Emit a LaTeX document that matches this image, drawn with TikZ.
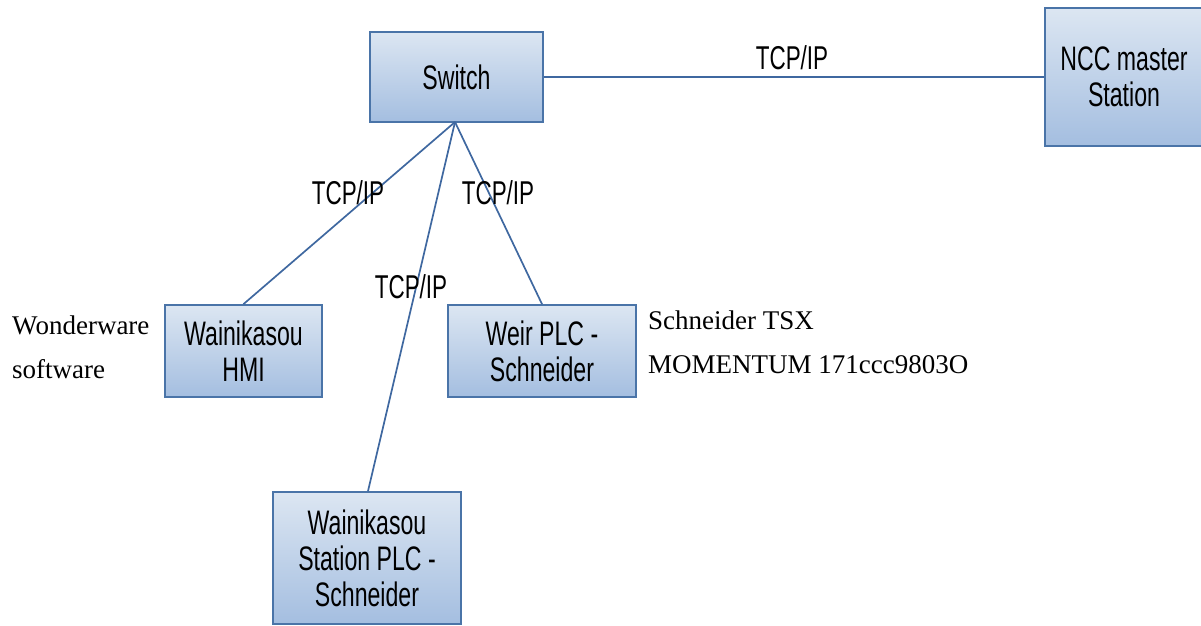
\documentclass[tikz,border=0pt]{standalone}
\usepackage{fontspec}
\setmainfont{Liberation Serif}
\newfontfamily\boxfont[FakeStretch=0.68]{Liberation Sans}
\definecolor{edge}{HTML}{4A74A8}
\definecolor{topc}{HTML}{DCE6F2}
\definecolor{botc}{HTML}{A4BEE0}
\definecolor{linec}{HTML}{3F68A0}
\begin{document}
\begin{tikzpicture}[x=1pt,y=-1pt,
  box/.style={draw=edge,line width=1.8pt,top color=topc,bottom color=botc,inner sep=0pt,
     font=\boxfont\fontsize{34}{36}\selectfont,align=center,text=black},
  conn/.style={draw=linec,line width=1.7pt},
  lbl/.style={font=\boxfont\fontsize{33}{36}\selectfont,inner sep=0pt},
  note/.style={font=\fontsize{27}{44}\selectfont,align=left,inner sep=0pt,anchor=north west}]
\useasboundingbox (0,0) rectangle (1201,625);
% boxes
\node[box,minimum width=173pt,minimum height=90pt] (sw) at (456.5,77) {Switch};
\node[box,minimum width=158pt,minimum height=138pt] (ncc) at (1124,77) {NCC master\\Station};
\node[box,minimum width=157pt,minimum height=92pt] (hmi) at (243.5,351) {Wainikasou\\HMI};
\node[box,minimum width=188pt,minimum height=92pt] (weir) at (542,351) {Weir PLC -\\Schneider};
\node[box,minimum width=188pt,minimum height=132pt] (st) at (367,558) {Wainikasou\\Station PLC -\\Schneider};
% junction
\coordinate (hub) at (455,122);
% connectors
\draw[conn] (sw.east) -- (ncc.west);
\draw[conn] (hub) -- (hmi.north);
\draw[conn] (hub) -- (weir.north);
\draw[conn] (hub) -- ([xshift=1pt]st.north);
% labels
\node[lbl] (l1) at (792,58) {TCP/IP};
\node[lbl] (l2) at (348,193) {TCP/IP};
\node[lbl] (l3) at (498,193) {TCP/IP};
\node[lbl] (l4) at (411,287) {TCP/IP};
% notes
\node[note] (n1) at (12,316) {Wonderware\\software};
\node[note] (n2) at (648,311) {Schneider TSX\\MOMENTUM 171ccc9803O};
\end{tikzpicture}
\end{document}
